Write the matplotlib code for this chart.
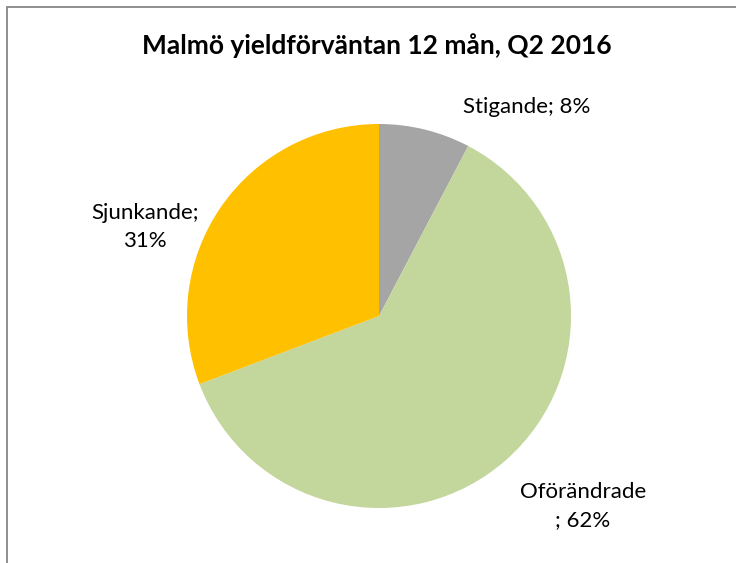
import matplotlib
matplotlib.use("Agg")
import matplotlib.pyplot as plt
from matplotlib.patches import Rectangle

categories = ["Stigande", "Oförändrade", "Sjunkande"]
counts = [1, 8, 4]
pct_labels = ["8%", "62%", "31%"]
colors = ["#A5A5A5", "#C3D69B", "#FFC000"]
title = "Malmö yieldförväntan 12 mån, Q2 2016"

plt.rcParams['font.family'] = ['Lato', 'DejaVu Sans']

W, H = 736, 563
fig = plt.figure(figsize=(W / 100, H / 100), dpi=100)

# border
fig.add_artist(Rectangle((7 / W, -0.1), 1.2, 1 - 7 / H + 0.1, transform=fig.transFigure,
                         fill=False, edgecolor="#868686", linewidth=1.3))

cx, cy, r = 379, 316, 192
ax = fig.add_axes([(cx - r) / W, (H - cy - r) / H, 2 * r / W, 2 * r / H])
ax.pie(counts, colors=colors, startangle=90, counterclock=False, radius=1,
       wedgeprops=dict(linewidth=0))
ax.set_xlim(-1, 1)
ax.set_ylim(-1, 1)
ax.set_aspect("equal")
ax.axis("off")

fig.text(377 / W, 1 - 46 / H, title, ha="center", va="center", fontsize=19,
         fontweight="bold", color="#000000")

def px(x, y):
    return x / W, 1 - y / H

fig.text(*px(527, 107), f"{categories[0]}; {pct_labels[0]}", ha="center", va="center",
         fontsize=16, color="#000000")
fig.text(*px(145, 227), f"{categories[2]};\n{pct_labels[2]}", ha="center", va="center",
         fontsize=16, color="#000000", linespacing=1.45)
fig.text(*px(583, 506), f"{categories[1]}\n; {pct_labels[1]}", ha="center", va="center",
         fontsize=16, color="#000000", linespacing=1.45)

fig.savefig("out.png", dpi=100)
